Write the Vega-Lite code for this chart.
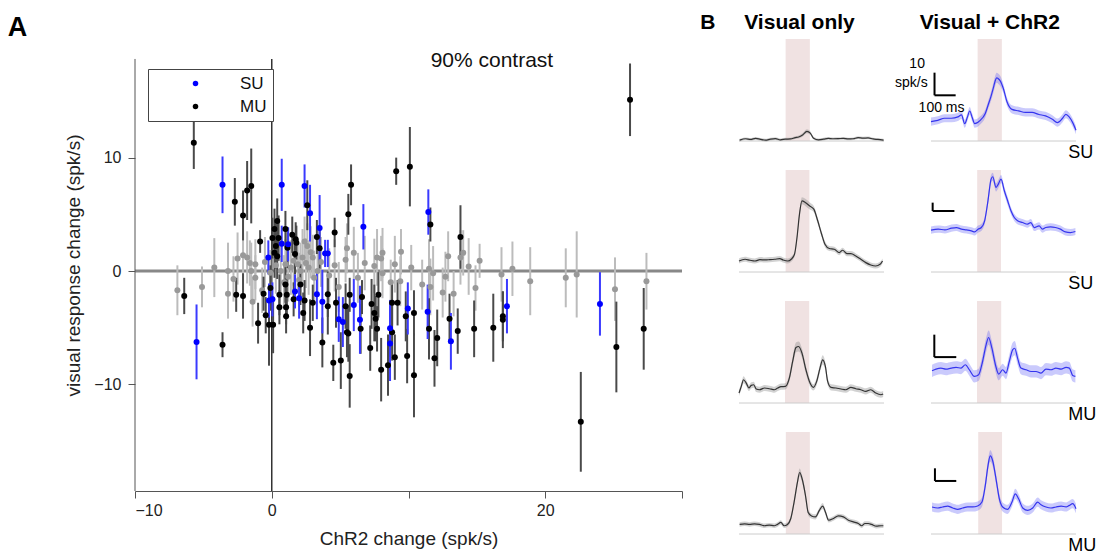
{
"$schema":"https://vega.github.io/schema/vega-lite/v6.json",
"padding":{"left":7,"top":12,"right":0,"bottom":0},
"config":{"view":{"stroke":null},"font":"Liberation Sans"},
"spacing":16,
"datasets":{
"pts":[
{"g":"NS","x":-6.9,"y":-1.7,"e":2.2},{"g":"NS","x":-5.1,"y":-1.4,"e":1.8},{"g":"NS","x":-4.2,"y":0.3,"e":2.6},{"g":"NS","x":-3.2,"y":0.0,"e":2.5},{"g":"NS","x":-3.2,"y":-2.0,"e":2.2},{"g":"NS","x":-2.8,"y":-0.7,"e":2.0},{"g":"NS","x":-2.1,"y":1.4,"e":2.0},{"g":"NS","x":-1.8,"y":1.2,"e":2.3},{"g":"NS","x":-1.6,"y":0.7,"e":2.0},{"g":"NS","x":-1.2,"y":0.6,"e":2.2},{"g":"NS","x":-1.5,"y":0.0,"e":2.5},{"g":"NS","x":-1.2,"y":-0.6,"e":2.0},{"g":"NS","x":-1.4,"y":-2.7,"e":2.2},{"g":"NS","x":-0.7,"y":-1.7,"e":2.0},{"g":"NS","x":2.4,"y":2.6,"e":2.2},{"g":"NS","x":2.6,"y":2.2,"e":2.0},{"g":"NS","x":2.85,"y":1.65,"e":2.3},{"g":"NS","x":2.25,"y":1.2,"e":2.5},{"g":"NS","x":2.5,"y":0.7,"e":2.2},{"g":"NS","x":2.7,"y":0.3,"e":2.4},{"g":"NS","x":3.0,"y":1.2,"e":2.0},{"g":"NS","x":1.9,"y":0.6,"e":2.3},{"g":"NS","x":2.1,"y":0.0,"e":2.5},{"g":"NS","x":1.6,"y":0.9,"e":2.2},{"g":"NS","x":1.4,"y":0.3,"e":2.4},{"g":"NS","x":1.0,"y":0.6,"e":2.2},{"g":"NS","x":0.66,"y":0.0,"e":2.2},{"g":"NS","x":-0.1,"y":-0.15,"e":2.0},{"g":"NS","x":3.1,"y":-0.6,"e":2.4},{"g":"NS","x":3.35,"y":0.0,"e":2.2},{"g":"NS","x":5.5,"y":2.0,"e":2.2},{"g":"NS","x":5.4,"y":1.0,"e":2.0},{"g":"NS","x":7.7,"y":1.2,"e":2.5},{"g":"NS","x":8.0,"y":1.1,"e":2.0},{"g":"NS","x":8.1,"y":1.6,"e":2.2},{"g":"NS","x":7.5,"y":0.45,"e":2.4},{"g":"NS","x":9.45,"y":1.7,"e":2.0},{"g":"NS","x":9.0,"y":0.6,"e":2.5},{"g":"NS","x":8.7,"y":-1.0,"e":2.0},{"g":"NS","x":9.4,"y":-0.9,"e":2.2},{"g":"NS","x":8.1,"y":-0.2,"e":2.2},{"g":"NS","x":11.0,"y":-1.2,"e":2.2},{"g":"NS","x":11.5,"y":0.2,"e":2.6},{"g":"NS","x":11.8,"y":-0.2,"e":2.4},{"g":"NS","x":11.6,"y":-1.4,"e":2.5},{"g":"NS","x":12.5,"y":-1.9,"e":2.2},{"g":"NS","x":12.7,"y":-0.5,"e":2.2},{"g":"NS","x":12.9,"y":1.3,"e":2.2},{"g":"NS","x":13.3,"y":-2.0,"e":2.0},{"g":"NS","x":13.8,"y":1.2,"e":2.4},{"g":"NS","x":14.0,"y":1.6,"e":2.0},{"g":"NS","x":14.4,"y":0.4,"e":2.5},{"g":"NS","x":14.9,"y":-1.5,"e":2.0},{"g":"NS","x":15.2,"y":0.9,"e":1.5},{"g":"NS","x":16.8,"y":-0.3,"e":2.4},{"g":"NS","x":17.6,"y":0.2,"e":2.4},{"g":"NS","x":18.9,"y":-0.9,"e":3.0},{"g":"NS","x":21.5,"y":-0.6,"e":2.6},{"g":"NS","x":22.3,"y":-0.3,"e":3.8},{"g":"NS","x":25.1,"y":-1.6,"e":2.8},{"g":"NS","x":27.4,"y":-0.9,"e":2.5},{"g":"NS","x":0.3,"y":0.5,"e":2.5},{"g":"NS","x":1.2,"y":-0.5,"e":2.2},{"g":"NS","x":2.0,"y":-0.8,"e":2.4},{"g":"NS","x":3.6,"y":0.8,"e":2.2},{"g":"NS","x":4.2,"y":-0.4,"e":2.4},{"g":"NS","x":4.6,"y":0.5,"e":2.3},{"g":"NS","x":6.3,"y":-0.6,"e":2.2},{"g":"NS","x":6.8,"y":0.7,"e":2.4},{"g":"NS","x":10.2,"y":0.3,"e":2.0},{"g":"NS","x":-2.5,"y":1.1,"e":2.3},{"g":"NS","x":-0.5,"y":0.8,"e":2.2},{"g":"NS","x":0.9,"y":-1.0,"e":2.4},{"g":"NS","x":4.9,"y":-1.4,"e":2.2},{"g":"NS","x":6.0,"y":1.6,"e":2.3},
{"g":"MU","x":26.2,"y":15.1,"e":3.2},{"g":"MU","x":-5.7,"y":11.3,"e":2.3},{"g":"MU","x":-6.4,"y":-2.2,"e":1.6},{"g":"MU","x":-3.6,"y":-6.5,"e":1.1},{"g":"MU","x":-2.7,"y":6.1,"e":2.1},{"g":"MU","x":-2.1,"y":4.9,"e":2.2},{"g":"MU","x":-1.8,"y":7.1,"e":2.6},{"g":"MU","x":-1.5,"y":7.5,"e":3.3},{"g":"MU","x":-2.6,"y":-2.1,"e":1.5},{"g":"MU","x":-2.1,"y":-2.2,"e":2.0},{"g":"MU","x":-1.0,"y":-4.6,"e":1.8},{"g":"MU","x":-0.85,"y":2.6,"e":1.0},{"g":"MU","x":-0.44,"y":-3.9,"e":1.6},{"g":"MU","x":-0.2,"y":-4.75,"e":3.6},{"g":"MU","x":0.1,"y":-4.75,"e":2.5},{"g":"MU","x":-0.1,"y":-1.5,"e":2.0},{"g":"MU","x":0.4,"y":4.4,"e":2.0},{"g":"MU","x":0.2,"y":3.7,"e":1.8},{"g":"MU","x":1.0,"y":3.7,"e":1.6},{"g":"MU","x":0.5,"y":2.9,"e":2.0},{"g":"MU","x":0.05,"y":2.9,"e":1.8},{"g":"MU","x":0.3,"y":2.2,"e":2.0},{"g":"MU","x":0.4,"y":1.3,"e":2.0},{"g":"MU","x":0.2,"y":1.6,"e":2.2},{"g":"MU","x":1.15,"y":2.05,"e":1.8},{"g":"MU","x":1.5,"y":3.2,"e":1.6},{"g":"MU","x":1.75,"y":2.8,"e":1.5},{"g":"MU","x":1.8,"y":2.5,"e":1.5},{"g":"MU","x":1.7,"y":1.5,"e":1.8},{"g":"MU","x":2.6,"y":5.8,"e":2.2},{"g":"MU","x":4.6,"y":3.4,"e":1.3},{"g":"MU","x":3.3,"y":3.0,"e":1.5},{"g":"MU","x":3.5,"y":2.0,"e":1.8},{"g":"MU","x":5.6,"y":5.0,"e":1.8},{"g":"MU","x":5.8,"y":7.6,"e":1.8},{"g":"MU","x":0.56,"y":-2.1,"e":1.8},{"g":"MU","x":1.0,"y":-1.2,"e":1.6},{"g":"MU","x":1.1,"y":-2.1,"e":1.8},{"g":"MU","x":1.05,"y":-3.2,"e":1.5},{"g":"MU","x":1.05,"y":-4.0,"e":1.5},{"g":"MU","x":0.56,"y":-3.2,"e":1.5},{"g":"MU","x":2.1,"y":-1.2,"e":1.8},{"g":"MU","x":2.4,"y":-2.6,"e":1.8},{"g":"MU","x":2.8,"y":-5.0,"e":2.5},{"g":"MU","x":3.7,"y":-6.3,"e":2.2},{"g":"MU","x":4.1,"y":-2.05,"e":2.0},{"g":"MU","x":4.1,"y":-3.1,"e":2.5},{"g":"MU","x":4.5,"y":-8.1,"e":1.6},{"g":"MU","x":4.7,"y":-2.8,"e":2.2},{"g":"MU","x":5.05,"y":-7.9,"e":2.5},{"g":"MU","x":5.5,"y":-5.4,"e":2.2},{"g":"MU","x":5.7,"y":-9.25,"e":2.8},{"g":"MU","x":9.1,"y":8.8,"e":1.2},{"g":"MU","x":10.1,"y":9.2,"e":3.5},{"g":"MU","x":11.6,"y":4.1,"e":1.5},{"g":"MU","x":13.8,"y":3.0,"e":2.8},{"g":"MU","x":5.7,"y":-2.1,"e":1.5},{"g":"MU","x":5.4,"y":-3.1,"e":2.0},{"g":"MU","x":6.6,"y":-2.3,"e":1.5},{"g":"MU","x":6.5,"y":-5.1,"e":2.2},{"g":"MU","x":5.6,"y":-5.5,"e":2.5},{"g":"MU","x":7.2,"y":-6.8,"e":2.0},{"g":"MU","x":7.3,"y":-2.9,"e":2.2},{"g":"MU","x":7.5,"y":-3.7,"e":2.5},{"g":"MU","x":7.6,"y":-4.2,"e":2.0},{"g":"MU","x":7.7,"y":-5.1,"e":2.0},{"g":"MU","x":7.8,"y":-2.1,"e":2.0},{"g":"MU","x":8.0,"y":-8.7,"e":2.8},{"g":"MU","x":8.5,"y":-8.3,"e":2.7},{"g":"MU","x":8.8,"y":-2.8,"e":2.0},{"g":"MU","x":9.2,"y":-2.8,"e":2.0},{"g":"MU","x":8.8,"y":-5.4,"e":2.5},{"g":"MU","x":9.0,"y":-7.6,"e":2.0},{"g":"MU","x":9.8,"y":-4.0,"e":2.2},{"g":"MU","x":9.9,"y":-7.5,"e":2.4},{"g":"MU","x":10.4,"y":-3.7,"e":2.0},{"g":"MU","x":10.4,"y":-9.2,"e":3.7},{"g":"MU","x":11.5,"y":-5.1,"e":2.7},{"g":"MU","x":12.1,"y":-5.9,"e":2.5},{"g":"MU","x":11.9,"y":-7.7,"e":2.5},{"g":"MU","x":13.0,"y":-4.2,"e":2.2},{"g":"MU","x":13.6,"y":-5.3,"e":2.0},{"g":"MU","x":14.8,"y":-5.1,"e":2.5},{"g":"MU","x":16.2,"y":-5.0,"e":3.0},{"g":"MU","x":16.9,"y":-4.0,"e":2.2},{"g":"MU","x":16.9,"y":-4.3,"e":2.5},{"g":"MU","x":22.6,"y":-13.3,"e":4.4},{"g":"MU","x":25.2,"y":-6.7,"e":4.0},{"g":"MU","x":27.2,"y":-5.1,"e":3.6},{"g":"MU","x":2.3,"y":-3.7,"e":1.8},{"g":"MU","x":1.6,"y":-2.5,"e":1.5},{"g":"MU","x":3.0,"y":-2.8,"e":1.6},{"g":"MU","x":-0.6,"y":-2.0,"e":1.5},
{"g":"SU","x":-5.5,"y":-6.25,"e":3.3},{"g":"SU","x":-3.6,"y":7.6,"e":2.5},{"g":"SU","x":0.73,"y":7.6,"e":2.3},{"g":"SU","x":2.4,"y":7.5,"e":1.9},{"g":"SU","x":2.8,"y":5.1,"e":2.5},{"g":"SU","x":3.5,"y":3.8,"e":2.9},{"g":"SU","x":0.73,"y":2.4,"e":1.6},{"g":"SU","x":1.2,"y":2.35,"e":1.5},{"g":"SU","x":3.9,"y":1.55,"e":1.2},{"g":"SU","x":4.1,"y":1.55,"e":1.2},{"g":"SU","x":-0.25,"y":1.2,"e":1.5},{"g":"SU","x":-0.2,"y":-2.6,"e":1.5},{"g":"SU","x":0.05,"y":-2.5,"e":1.5},{"g":"SU","x":1.7,"y":-1.8,"e":1.5},{"g":"SU","x":2.0,"y":-2.4,"e":1.8},{"g":"SU","x":3.3,"y":-2.05,"e":2.2},{"g":"SU","x":3.7,"y":-2.7,"e":2.8},{"g":"SU","x":4.9,"y":-4.25,"e":2.0},{"g":"SU","x":5.2,"y":-4.5,"e":2.2},{"g":"SU","x":6.7,"y":3.9,"e":2.0},{"g":"SU","x":11.45,"y":5.2,"e":2.0},{"g":"SU","x":6.0,"y":-3.0,"e":2.3},{"g":"SU","x":6.45,"y":-4.3,"e":3.0},{"g":"SU","x":8.65,"y":-5.05,"e":2.5},{"g":"SU","x":8.65,"y":-6.4,"e":3.3},{"g":"SU","x":9.95,"y":-3.3,"e":2.3},{"g":"SU","x":11.4,"y":-3.6,"e":2.4},{"g":"SU","x":13.1,"y":-6.2,"e":2.5},{"g":"SU","x":17.2,"y":-3.1,"e":2.4},{"g":"SU","x":24.0,"y":-2.9,"e":2.8}
],
"tr":[
{"r":1,"c":"vis","k":"s","t":225,"t2":342},{"r":1,"c":"chr","k":"s","t":225,"t2":342},{"r":2,"c":"vis","k":"s","t":225,"t2":340},{"r":2,"c":"chr","k":"s","t":223,"t2":338},{"r":3,"c":"vis","k":"s","t":222,"t2":339},{"r":3,"c":"chr","k":"s","t":222,"t2":339},{"r":4,"c":"vis","k":"s","t":226,"t2":342},{"r":4,"c":"chr","k":"s","t":228,"t2":343},
{"r":1,"c":"vis","k":"hd","t":292,"v":109.8,"lab":"Visual only"},{"r":1,"c":"chr","k":"hd","t":284,"v":109.8,"lab":"Visual + ChR2"},{"r":1,"c":"vis","k":"hd","t":-151,"v":109.8,"lab":"B"},
{"r":1,"c":"chr","k":"u","t":663,"v":-11.5,"lab":"SU"},{"r":2,"c":"chr","k":"u","t":663,"v":-11.5,"lab":"SU"},{"r":3,"c":"chr","k":"u","t":663,"v":-11.5,"lab":"MU"},{"r":4,"c":"chr","k":"u","t":663,"v":-11.5,"lab":"MU"},
{"r":1,"c":"chr","k":"st","t":-67,"v":75.5,"lab":"10"},{"r":1,"c":"chr","k":"st","t":-95,"v":57,"lab":"spk/s"},{"r":1,"c":"chr","k":"st","t":51,"v":32.6,"lab":"100 ms"},
{"r":1,"c":"chr","k":"sb","t":17,"t2":17,"v":44.8,"v2":67},{"r":1,"c":"chr","k":"sb","t":17,"t2":119,"v":44.8,"v2":44.8},
{"r":2,"c":"chr","k":"sb","t":8,"t2":8,"v":59.8,"v2":68},{"r":2,"c":"chr","k":"sb","t":8,"t2":113,"v":59.8,"v2":59.8},
{"r":3,"c":"chr","k":"sb","t":16,"t2":16,"v":45,"v2":67},{"r":3,"c":"chr","k":"sb","t":16,"t2":122,"v":45,"v2":45},
{"r":4,"c":"chr","k":"sb","t":19,"t2":19,"v":52,"v2":64.4},{"r":4,"c":"chr","k":"sb","t":19,"t2":122,"v":52,"v2":52},
{"r":1,"c":"vis","k":"tr","t":3,"v":0.8,"e":1.3},{"r":1,"c":"vis","k":"tr","t":32,"v":2.2,"e":1.3},{"r":1,"c":"vis","k":"tr","t":56,"v":1.5,"e":1.3},{"r":1,"c":"vis","k":"tr","t":80,"v":2.6,"e":1.3},{"r":1,"c":"vis","k":"tr","t":104,"v":1.6,"e":1.3},{"r":1,"c":"vis","k":"tr","t":128,"v":0.8,"e":1.3},{"r":1,"c":"vis","k":"tr","t":152,"v":1.8,"e":1.3},{"r":1,"c":"vis","k":"tr","t":176,"v":2.3,"e":1.3},{"r":1,"c":"vis","k":"tr","t":200,"v":1.2,"e":1.3},{"r":1,"c":"vis","k":"tr","t":224,"v":1.8,"e":1.3},{"r":1,"c":"vis","k":"tr","t":248,"v":2.0,"e":1.3},{"r":1,"c":"vis","k":"tr","t":272,"v":3.3,"e":1.3},{"r":1,"c":"vis","k":"tr","t":288,"v":3.9,"e":1.5},{"r":1,"c":"vis","k":"tr","t":307,"v":6.0,"e":1.8},{"r":1,"c":"vis","k":"tr","t":328,"v":9.5,"e":2.0},{"r":1,"c":"vis","k":"tr","t":344,"v":7.8,"e":1.8},{"r":1,"c":"vis","k":"tr","t":360,"v":2.8,"e":1.3},{"r":1,"c":"vis","k":"tr","t":384,"v":1.2,"e":1.3},{"r":1,"c":"vis","k":"tr","t":408,"v":1.8,"e":1.3},{"r":1,"c":"vis","k":"tr","t":431,"v":2.6,"e":1.3},{"r":1,"c":"vis","k":"tr","t":455,"v":2.2,"e":1.3},{"r":1,"c":"vis","k":"tr","t":479,"v":2.3,"e":1.3},{"r":1,"c":"vis","k":"tr","t":503,"v":2.6,"e":1.3},{"r":1,"c":"vis","k":"tr","t":527,"v":2.0,"e":1.3},{"r":1,"c":"vis","k":"tr","t":551,"v":2.2,"e":1.3},{"r":1,"c":"vis","k":"tr","t":575,"v":3.3,"e":1.3},{"r":1,"c":"vis","k":"tr","t":599,"v":2.8,"e":1.3},{"r":1,"c":"vis","k":"tr","t":623,"v":3.0,"e":1.3},{"r":1,"c":"vis","k":"tr","t":647,"v":2.0,"e":1.3},{"r":1,"c":"vis","k":"tr","t":671,"v":1.5,"e":1.3},{"r":1,"c":"vis","k":"tr","t":698,"v":0.8,"e":1.3},
{"r":1,"c":"chr","k":"tr","t":0,"v":19,"e":4},{"r":1,"c":"chr","k":"tr","t":33,"v":20.3,"e":4},{"r":1,"c":"chr","k":"tr","t":65,"v":22.3,"e":4},{"r":1,"c":"chr","k":"tr","t":98,"v":22.3,"e":4},{"r":1,"c":"chr","k":"tr","t":130,"v":23.6,"e":4},{"r":1,"c":"chr","k":"tr","t":147,"v":25.6,"e":4},{"r":1,"c":"chr","k":"tr","t":163,"v":17,"e":4},{"r":1,"c":"chr","k":"tr","t":175,"v":23,"e":4},{"r":1,"c":"chr","k":"tr","t":187,"v":29.4,"e":4},{"r":1,"c":"chr","k":"tr","t":199,"v":23,"e":4},{"r":1,"c":"chr","k":"tr","t":211,"v":17,"e":4},{"r":1,"c":"chr","k":"tr","t":236,"v":20,"e":4},{"r":1,"c":"chr","k":"tr","t":262,"v":27,"e":4},{"r":1,"c":"chr","k":"tr","t":277,"v":36,"e":4},{"r":1,"c":"chr","k":"tr","t":290,"v":44,"e":4.5},{"r":1,"c":"chr","k":"tr","t":301,"v":52,"e":5},{"r":1,"c":"chr","k":"tr","t":310,"v":59,"e":5},{"r":1,"c":"chr","k":"tr","t":317,"v":62,"e":5},{"r":1,"c":"chr","k":"tr","t":325,"v":61,"e":5},{"r":1,"c":"chr","k":"tr","t":334,"v":59,"e":5},{"r":1,"c":"chr","k":"tr","t":350,"v":51,"e":4.5},{"r":1,"c":"chr","k":"tr","t":366,"v":39,"e":4},{"r":1,"c":"chr","k":"tr","t":391,"v":31,"e":4},{"r":1,"c":"chr","k":"tr","t":423,"v":29.5,"e":4},{"r":1,"c":"chr","k":"tr","t":456,"v":28,"e":4},{"r":1,"c":"chr","k":"tr","t":488,"v":28,"e":4},{"r":1,"c":"chr","k":"tr","t":521,"v":26,"e":4},{"r":1,"c":"chr","k":"tr","t":553,"v":24.6,"e":4},{"r":1,"c":"chr","k":"tr","t":586,"v":21.3,"e":4},{"r":1,"c":"chr","k":"tr","t":610,"v":18,"e":4},{"r":1,"c":"chr","k":"tr","t":635,"v":22.3,"e":4},{"r":1,"c":"chr","k":"tr","t":651,"v":26.2,"e":4},{"r":1,"c":"chr","k":"tr","t":667,"v":23.6,"e":4},{"r":1,"c":"chr","k":"tr","t":684,"v":18,"e":4},{"r":1,"c":"chr","k":"tr","t":700,"v":10.5,"e":4},
{"r":2,"c":"vis","k":"tr","t":0,"v":10.8,"e":2.5},{"r":2,"c":"vis","k":"tr","t":29,"v":12.5,"e":2.5},{"r":2,"c":"vis","k":"tr","t":53,"v":11.5,"e":2.5},{"r":2,"c":"vis","k":"tr","t":77,"v":10.8,"e":2.5},{"r":2,"c":"vis","k":"tr","t":101,"v":12.1,"e":2.5},{"r":2,"c":"vis","k":"tr","t":125,"v":11.8,"e":2.5},{"r":2,"c":"vis","k":"tr","t":149,"v":12.1,"e":2.5},{"r":2,"c":"vis","k":"tr","t":173,"v":12.5,"e":2.5},{"r":2,"c":"vis","k":"tr","t":197,"v":13.1,"e":2.5},{"r":2,"c":"vis","k":"tr","t":213,"v":11.8,"e":2.5},{"r":2,"c":"vis","k":"tr","t":236,"v":10.8,"e":2.5},{"r":2,"c":"vis","k":"tr","t":252,"v":12.5,"e":2.5},{"r":2,"c":"vis","k":"tr","t":268,"v":17.4,"e":2.5},{"r":2,"c":"vis","k":"tr","t":280,"v":33.8,"e":3},{"r":2,"c":"vis","k":"tr","t":292,"v":56.7,"e":3},{"r":2,"c":"vis","k":"tr","t":304,"v":69.8,"e":3.5},{"r":2,"c":"vis","k":"tr","t":320,"v":68.2,"e":3.5},{"r":2,"c":"vis","k":"tr","t":340,"v":64.9,"e":3.5},{"r":2,"c":"vis","k":"tr","t":361,"v":61.6,"e":3},{"r":2,"c":"vis","k":"tr","t":380,"v":50.2,"e":3},{"r":2,"c":"vis","k":"tr","t":399,"v":37,"e":3},{"r":2,"c":"vis","k":"tr","t":415,"v":27.2,"e":3},{"r":2,"c":"vis","k":"tr","t":436,"v":23,"e":2.5},{"r":2,"c":"vis","k":"tr","t":460,"v":22.3,"e":2.5},{"r":2,"c":"vis","k":"tr","t":484,"v":19,"e":2.5},{"r":2,"c":"vis","k":"tr","t":500,"v":21.3,"e":2.5},{"r":2,"c":"vis","k":"tr","t":521,"v":18,"e":2.5},{"r":2,"c":"vis","k":"tr","t":540,"v":18,"e":2.5},{"r":2,"c":"vis","k":"tr","t":564,"v":15.7,"e":2.5},{"r":2,"c":"vis","k":"tr","t":588,"v":12.5,"e":2.5},{"r":2,"c":"vis","k":"tr","t":612,"v":9.2,"e":2.5},{"r":2,"c":"vis","k":"tr","t":636,"v":6.9,"e":2.5},{"r":2,"c":"vis","k":"tr","t":660,"v":5.9,"e":2.5},{"r":2,"c":"vis","k":"tr","t":681,"v":7.5,"e":2.5},{"r":2,"c":"vis","k":"tr","t":693,"v":10.8,"e":2.5},
{"r":2,"c":"chr","k":"tr","t":0,"v":41,"e":3.5},{"r":2,"c":"chr","k":"tr","t":35,"v":42,"e":3.5},{"r":2,"c":"chr","k":"tr","t":67,"v":41.3,"e":3.5},{"r":2,"c":"chr","k":"tr","t":99,"v":43,"e":3.5},{"r":2,"c":"chr","k":"tr","t":123,"v":43.6,"e":3.5},{"r":2,"c":"chr","k":"tr","t":147,"v":42,"e":3.5},{"r":2,"c":"chr","k":"tr","t":171,"v":41.3,"e":3.5},{"r":2,"c":"chr","k":"tr","t":195,"v":40.3,"e":3.5},{"r":2,"c":"chr","k":"tr","t":211,"v":39.3,"e":3.5},{"r":2,"c":"chr","k":"tr","t":227,"v":42,"e":3.5},{"r":2,"c":"chr","k":"tr","t":243,"v":43.6,"e":3.5},{"r":2,"c":"chr","k":"tr","t":259,"v":50.2,"e":3.5},{"r":2,"c":"chr","k":"tr","t":275,"v":69.8,"e":4},{"r":2,"c":"chr","k":"tr","t":290,"v":91.1,"e":4},{"r":2,"c":"chr","k":"tr","t":298,"v":93.4,"e":4},{"r":2,"c":"chr","k":"tr","t":314,"v":83,"e":4},{"r":2,"c":"chr","k":"tr","t":325,"v":86.2,"e":4},{"r":2,"c":"chr","k":"tr","t":338,"v":91.1,"e":4},{"r":2,"c":"chr","k":"tr","t":354,"v":79.7,"e":4},{"r":2,"c":"chr","k":"tr","t":370,"v":69.8,"e":4},{"r":2,"c":"chr","k":"tr","t":386,"v":60,"e":3.5},{"r":2,"c":"chr","k":"tr","t":402,"v":53.4,"e":3.5},{"r":2,"c":"chr","k":"tr","t":418,"v":50.2,"e":3.5},{"r":2,"c":"chr","k":"tr","t":442,"v":48.5,"e":3.5},{"r":2,"c":"chr","k":"tr","t":466,"v":46.9,"e":3.5},{"r":2,"c":"chr","k":"tr","t":482,"v":48.5,"e":3.5},{"r":2,"c":"chr","k":"tr","t":498,"v":43.6,"e":3.5},{"r":2,"c":"chr","k":"tr","t":522,"v":45.2,"e":3.5},{"r":2,"c":"chr","k":"tr","t":538,"v":42,"e":3.5},{"r":2,"c":"chr","k":"tr","t":554,"v":43.6,"e":3.5},{"r":2,"c":"chr","k":"tr","t":577,"v":44.3,"e":3.5},{"r":2,"c":"chr","k":"tr","t":601,"v":43.6,"e":3.5},{"r":2,"c":"chr","k":"tr","t":625,"v":42,"e":3.5},{"r":2,"c":"chr","k":"tr","t":649,"v":39.3,"e":3.5},{"r":2,"c":"chr","k":"tr","t":673,"v":38.7,"e":3.5},{"r":2,"c":"chr","k":"tr","t":697,"v":39.7,"e":3.5},
{"r":3,"c":"vis","k":"tr","t":0,"v":9.8,"e":3},{"r":3,"c":"vis","k":"tr","t":11,"v":16.3,"e":3},{"r":3,"c":"vis","k":"tr","t":22,"v":22.8,"e":3.5},{"r":3,"c":"vis","k":"tr","t":35,"v":19.5,"e":3},{"r":3,"c":"vis","k":"tr","t":48,"v":14.7,"e":3},{"r":3,"c":"vis","k":"tr","t":59,"v":17.3,"e":3},{"r":3,"c":"vis","k":"tr","t":71,"v":17.9,"e":3},{"r":3,"c":"vis","k":"tr","t":83,"v":13.7,"e":3},{"r":3,"c":"vis","k":"tr","t":99,"v":13,"e":3},{"r":3,"c":"vis","k":"tr","t":123,"v":14.7,"e":3},{"r":3,"c":"vis","k":"tr","t":147,"v":14,"e":3},{"r":3,"c":"vis","k":"tr","t":171,"v":13,"e":3},{"r":3,"c":"vis","k":"tr","t":187,"v":14.7,"e":3},{"r":3,"c":"vis","k":"tr","t":203,"v":16,"e":3},{"r":3,"c":"vis","k":"tr","t":224,"v":16.3,"e":3},{"r":3,"c":"vis","k":"tr","t":243,"v":24.4,"e":3.5},{"r":3,"c":"vis","k":"tr","t":259,"v":40.7,"e":4.5},{"r":3,"c":"vis","k":"tr","t":275,"v":54.4,"e":5},{"r":3,"c":"vis","k":"tr","t":288,"v":55.4,"e":5},{"r":3,"c":"vis","k":"tr","t":304,"v":48.9,"e":4.5},{"r":3,"c":"vis","k":"tr","t":323,"v":32.6,"e":4},{"r":3,"c":"vis","k":"tr","t":343,"v":19.5,"e":3.5},{"r":3,"c":"vis","k":"tr","t":359,"v":15.3,"e":3},{"r":3,"c":"vis","k":"tr","t":375,"v":21.2,"e":3.5},{"r":3,"c":"vis","k":"tr","t":391,"v":34.2,"e":4},{"r":3,"c":"vis","k":"tr","t":404,"v":42.3,"e":4.5},{"r":3,"c":"vis","k":"tr","t":417,"v":35.8,"e":4},{"r":3,"c":"vis","k":"tr","t":428,"v":21.2,"e":3.5},{"r":3,"c":"vis","k":"tr","t":444,"v":15.3,"e":3},{"r":3,"c":"vis","k":"tr","t":468,"v":14.7,"e":3},{"r":3,"c":"vis","k":"tr","t":492,"v":13.7,"e":3},{"r":3,"c":"vis","k":"tr","t":516,"v":13,"e":3},{"r":3,"c":"vis","k":"tr","t":540,"v":15.3,"e":3},{"r":3,"c":"vis","k":"tr","t":564,"v":14,"e":3},{"r":3,"c":"vis","k":"tr","t":588,"v":13,"e":3},{"r":3,"c":"vis","k":"tr","t":612,"v":11.4,"e":3},{"r":3,"c":"vis","k":"tr","t":636,"v":13,"e":3},{"r":3,"c":"vis","k":"tr","t":660,"v":9.8,"e":3},{"r":3,"c":"vis","k":"tr","t":685,"v":8.1,"e":3},{"r":3,"c":"vis","k":"tr","t":696,"v":8.8,"e":3},
{"r":3,"c":"chr","k":"tr","t":5,"v":31.6,"e":6},{"r":3,"c":"chr","k":"tr","t":24,"v":33.2,"e":6},{"r":3,"c":"chr","k":"tr","t":48,"v":34.2,"e":6},{"r":3,"c":"chr","k":"tr","t":72,"v":33.2,"e":6},{"r":3,"c":"chr","k":"tr","t":97,"v":34.2,"e":6},{"r":3,"c":"chr","k":"tr","t":121,"v":34.9,"e":6},{"r":3,"c":"chr","k":"tr","t":145,"v":34.2,"e":6},{"r":3,"c":"chr","k":"tr","t":166,"v":37.5,"e":6},{"r":3,"c":"chr","k":"tr","t":185,"v":32.6,"e":6},{"r":3,"c":"chr","k":"tr","t":209,"v":26.1,"e":6},{"r":3,"c":"chr","k":"tr","t":230,"v":27.7,"e":6},{"r":3,"c":"chr","k":"tr","t":249,"v":40.7,"e":6.5},{"r":3,"c":"chr","k":"tr","t":266,"v":57,"e":7},{"r":3,"c":"chr","k":"tr","t":278,"v":64.2,"e":7},{"r":3,"c":"chr","k":"tr","t":294,"v":53.7,"e":7},{"r":3,"c":"chr","k":"tr","t":311,"v":37.5,"e":6.5},{"r":3,"c":"chr","k":"tr","t":327,"v":28.3,"e":6},{"r":3,"c":"chr","k":"tr","t":346,"v":32.6,"e":6},{"r":3,"c":"chr","k":"tr","t":362,"v":29.3,"e":6},{"r":3,"c":"chr","k":"tr","t":378,"v":40.7,"e":6.5},{"r":3,"c":"chr","k":"tr","t":394,"v":52.1,"e":7},{"r":3,"c":"chr","k":"tr","t":404,"v":53.7,"e":7},{"r":3,"c":"chr","k":"tr","t":418,"v":44,"e":6.5},{"r":3,"c":"chr","k":"tr","t":434,"v":34.2,"e":6},{"r":3,"c":"chr","k":"tr","t":459,"v":32.6,"e":6},{"r":3,"c":"chr","k":"tr","t":483,"v":30.9,"e":6},{"r":3,"c":"chr","k":"tr","t":507,"v":30.9,"e":6},{"r":3,"c":"chr","k":"tr","t":531,"v":29.3,"e":6},{"r":3,"c":"chr","k":"tr","t":555,"v":33.2,"e":6},{"r":3,"c":"chr","k":"tr","t":579,"v":32.6,"e":6},{"r":3,"c":"chr","k":"tr","t":603,"v":34.2,"e":6},{"r":3,"c":"chr","k":"tr","t":628,"v":33.2,"e":6},{"r":3,"c":"chr","k":"tr","t":652,"v":34.9,"e":6},{"r":3,"c":"chr","k":"tr","t":668,"v":34.2,"e":6},{"r":3,"c":"chr","k":"tr","t":684,"v":27,"e":6},{"r":3,"c":"chr","k":"tr","t":697,"v":26.1,"e":6},
{"r":4,"c":"vis","k":"tr","t":3,"v":9.4,"e":2.2},{"r":4,"c":"vis","k":"tr","t":27,"v":10,"e":2.2},{"r":4,"c":"vis","k":"tr","t":51,"v":9.4,"e":2.2},{"r":4,"c":"vis","k":"tr","t":75,"v":10,"e":2.2},{"r":4,"c":"vis","k":"tr","t":99,"v":9.4,"e":2.2},{"r":4,"c":"vis","k":"tr","t":123,"v":8.1,"e":2.2},{"r":4,"c":"vis","k":"tr","t":146,"v":8.7,"e":2.2},{"r":4,"c":"vis","k":"tr","t":170,"v":8.1,"e":2.2},{"r":4,"c":"vis","k":"tr","t":186,"v":9.4,"e":2.2},{"r":4,"c":"vis","k":"tr","t":202,"v":11.3,"e":2.2},{"r":4,"c":"vis","k":"tr","t":218,"v":8.1,"e":2.2},{"r":4,"c":"vis","k":"tr","t":234,"v":9.4,"e":2.2},{"r":4,"c":"vis","k":"tr","t":250,"v":15.2,"e":2.5},{"r":4,"c":"vis","k":"tr","t":266,"v":31.3,"e":3},{"r":4,"c":"vis","k":"tr","t":282,"v":50.6,"e":3.5},{"r":4,"c":"vis","k":"tr","t":293,"v":60.3,"e":4},{"r":4,"c":"vis","k":"tr","t":305,"v":53.9,"e":3.5},{"r":4,"c":"vis","k":"tr","t":321,"v":37.7,"e":3},{"r":4,"c":"vis","k":"tr","t":334,"v":21,"e":2.5},{"r":4,"c":"vis","k":"tr","t":350,"v":17.7,"e":2.5},{"r":4,"c":"vis","k":"tr","t":369,"v":16.8,"e":2.5},{"r":4,"c":"vis","k":"tr","t":388,"v":23.2,"e":2.5},{"r":4,"c":"vis","k":"tr","t":404,"v":27.4,"e":3},{"r":4,"c":"vis","k":"tr","t":417,"v":21.6,"e":2.5},{"r":4,"c":"vis","k":"tr","t":433,"v":13.5,"e":2.2},{"r":4,"c":"vis","k":"tr","t":456,"v":15.2,"e":2.2},{"r":4,"c":"vis","k":"tr","t":480,"v":17.7,"e":2.2},{"r":4,"c":"vis","k":"tr","t":504,"v":16.8,"e":2.2},{"r":4,"c":"vis","k":"tr","t":528,"v":13.5,"e":2.2},{"r":4,"c":"vis","k":"tr","t":552,"v":11.9,"e":2.2},{"r":4,"c":"vis","k":"tr","t":576,"v":10.3,"e":2.2},{"r":4,"c":"vis","k":"tr","t":592,"v":8.1,"e":2.2},{"r":4,"c":"vis","k":"tr","t":608,"v":10.3,"e":2.2},{"r":4,"c":"vis","k":"tr","t":624,"v":10.3,"e":2.2},{"r":4,"c":"vis","k":"tr","t":640,"v":9.4,"e":2.2},{"r":4,"c":"vis","k":"tr","t":663,"v":7.7,"e":2.2},{"r":4,"c":"vis","k":"tr","t":687,"v":8.1,"e":2.2},{"r":4,"c":"vis","k":"tr","t":697,"v":8.1,"e":2.2},
{"r":4,"c":"chr","k":"tr","t":5,"v":26.5,"e":4.5},{"r":4,"c":"chr","k":"tr","t":32,"v":25.5,"e":4.5},{"r":4,"c":"chr","k":"tr","t":56,"v":26.5,"e":4.5},{"r":4,"c":"chr","k":"tr","t":80,"v":27.4,"e":4.5},{"r":4,"c":"chr","k":"tr","t":105,"v":25.5,"e":4.5},{"r":4,"c":"chr","k":"tr","t":129,"v":24.2,"e":4.5},{"r":4,"c":"chr","k":"tr","t":153,"v":25.5,"e":4.5},{"r":4,"c":"chr","k":"tr","t":177,"v":26.5,"e":4.5},{"r":4,"c":"chr","k":"tr","t":201,"v":26.5,"e":4.5},{"r":4,"c":"chr","k":"tr","t":225,"v":27.4,"e":4.5},{"r":4,"c":"chr","k":"tr","t":246,"v":31.3,"e":4.5},{"r":4,"c":"chr","k":"tr","t":262,"v":47.4,"e":5},{"r":4,"c":"chr","k":"tr","t":275,"v":66.8,"e":5.5},{"r":4,"c":"chr","k":"tr","t":286,"v":76.5,"e":5.5},{"r":4,"c":"chr","k":"tr","t":298,"v":71.6,"e":5.5},{"r":4,"c":"chr","k":"tr","t":314,"v":53.9,"e":5},{"r":4,"c":"chr","k":"tr","t":330,"v":34.5,"e":4.5},{"r":4,"c":"chr","k":"tr","t":346,"v":26.5,"e":4.5},{"r":4,"c":"chr","k":"tr","t":370,"v":24.2,"e":4.5},{"r":4,"c":"chr","k":"tr","t":391,"v":31.3,"e":4.5},{"r":4,"c":"chr","k":"tr","t":407,"v":39.4,"e":5},{"r":4,"c":"chr","k":"tr","t":423,"v":34.5,"e":4.5},{"r":4,"c":"chr","k":"tr","t":443,"v":25.5,"e":4.5},{"r":4,"c":"chr","k":"tr","t":467,"v":23.2,"e":4.5},{"r":4,"c":"chr","k":"tr","t":491,"v":25.5,"e":4.5},{"r":4,"c":"chr","k":"tr","t":515,"v":31.3,"e":4.5},{"r":4,"c":"chr","k":"tr","t":531,"v":28.7,"e":4.5},{"r":4,"c":"chr","k":"tr","t":555,"v":26.5,"e":4.5},{"r":4,"c":"chr","k":"tr","t":579,"v":25.5,"e":4.5},{"r":4,"c":"chr","k":"tr","t":603,"v":26.5,"e":4.5},{"r":4,"c":"chr","k":"tr","t":628,"v":27.4,"e":4.5},{"r":4,"c":"chr","k":"tr","t":652,"v":26.5,"e":4.5},{"r":4,"c":"chr","k":"tr","t":668,"v":28.1,"e":4.5},{"r":4,"c":"chr","k":"tr","t":684,"v":29.7,"e":4.5},{"r":4,"c":"chr","k":"tr","t":700,"v":24.8,"e":4.5}
]
},
"hconcat":[
{
"width":547,"height":452,
"title":{"text":"A","anchor":"start","frame":"bounds","fontSize":27,"fontWeight":"bold","dx":-57,"offset":-3,"color":"#000"},
"layer":[
{"data":{"values":[{}]},"mark":{"type":"rule","color":"#888","strokeWidth":3},"encoding":{"y":{"datum":0,"type":"quantitative"}}},
{"data":{"values":[{}]},"mark":{"type":"rule","color":"#333","strokeWidth":1.5},"encoding":{"x":{"datum":0,"type":"quantitative"},"y":{"datum":-19.4,"type":"quantitative"},"y2":{"datum":18.7}}},
{"data":{"values":[{}]},"mark":{"type":"rule","color":"#555","strokeWidth":1},"encoding":{"x":{"datum":-10,"type":"quantitative"},"y":{"datum":-19.4,"type":"quantitative"},"y2":{"datum":18.7}}},
{"data":{"name":"pts"},"transform":[{"filter":"datum.g=='NS'"}],"mark":{"type":"errorbar","ticks":false,"thickness":2,"color":"#bcbcbc"},
 "encoding":{"x":{"field":"x","type":"quantitative","title":"ChR2 change (spk/s)"},"y":{"field":"y","type":"quantitative","title":"visual response change (spk/s)"},"yError":{"field":"e"}}},
{"data":{"name":"pts"},"transform":[{"filter":"datum.g=='MU'"}],"mark":{"type":"errorbar","ticks":false,"thickness":2,"color":"#4a4a4a"},
 "encoding":{"x":{"field":"x","type":"quantitative","title":"ChR2 change (spk/s)"},"y":{"field":"y","type":"quantitative","title":"visual response change (spk/s)"},"yError":{"field":"e"}}},
{"data":{"name":"pts"},"transform":[{"filter":"datum.g=='SU'"}],"mark":{"type":"errorbar","ticks":false,"thickness":2,"color":"#3a3aff"},
 "encoding":{"x":{"field":"x","type":"quantitative","title":"ChR2 change (spk/s)"},"y":{"field":"y","type":"quantitative","title":"visual response change (spk/s)"},"yError":{"field":"e"}}},
{"data":{"name":"pts"},"mark":{"type":"point","filled":true,"size":36,"opacity":1},
 "encoding":{
  "x":{"field":"x","type":"quantitative","title":"ChR2 change (spk/s)","scale":{"domain":[-10,30],"nice":false,"zero":false},
    "axis":{"values":[-10,0,10,20,30],"labelExpr":"datum.value==10||datum.value==30?'':datum.label","grid":false,"domainColor":"#555","tickColor":"#555","tickSize":7,"labelFontSize":16,"labelColor":"#222","labelPadding":4,"titleFontSize":19,"titleFontWeight":"normal","titleColor":"#222","titlePadding":11}},
  "y":{"field":"y","type":"quantitative","title":"visual response change (spk/s)","scale":{"domain":[-19.4,20.46],"nice":false,"zero":false},
    "axis":{"values":[-10,0,10],"grid":false,"domain":false,"tickColor":"#555","tickSize":7,"labelFontSize":16,"labelColor":"#222","labelPadding":7,"titleFontSize":19,"titleFontWeight":"normal","titleColor":"#222","titlePadding":10}},
  "color":{"field":"g","type":"nominal","scale":{"domain":["SU","MU","NS"],"range":["#0000ff","#000000","#999999"]},
    "legend":{"orient":"none","legendX":13,"legendY":30,"title":null,"values":["SU","MU"],"strokeColor":"#444","fillColor":"white","padding":6,"symbolType":"circle","symbolSize":30,"symbolOffset":33,"labelOffset":36,"labelFontSize":17,"labelColor":"#111","rowPadding":5}}
 }},
{"data":{"values":[{}]},"mark":{"type":"text","fontSize":21,"color":"#111","baseline":"middle"},"encoding":{"x":{"datum":16.1,"type":"quantitative"},"y":{"datum":18.5,"type":"quantitative"},"text":{"value":"90% contrast"}}}
]
},
{
"data":{"name":"tr"},
"facet":{"row":{"field":"r","type":"ordinal","header":null},"column":{"field":"c","type":"nominal","sort":["vis","chr"],"header":null}},
"spacing":{"row":29,"column":47},
"bounds":"flush",
"spec":{
"width":145,"height":102,
"layer":[
{"transform":[{"filter":"datum.k=='s'"}],"mark":{"type":"rect","color":"#f0e2e2"},
 "encoding":{"x":{"field":"t","type":"quantitative","scale":{"domain":[0,700],"nice":false,"zero":false},"axis":null},"x2":{"field":"t2"}}},
{"transform":[{"filter":"datum.k=='s'"}],"mark":{"type":"rule","color":"#cccccc","strokeWidth":1},
 "encoding":{"y":{"datum":0,"type":"quantitative","scale":{"domain":[0,100],"nice":false,"zero":false},"axis":null}}},
{"transform":[{"filter":"datum.k=='tr' && datum.c=='vis'"}],"mark":{"type":"errorband","color":"#888888","opacity":0.38,"interpolate":"monotone"},
 "encoding":{"x":{"field":"t","type":"quantitative","axis":null},"y":{"field":"v","type":"quantitative","axis":null},"yError":{"field":"e"}}},
{"transform":[{"filter":"datum.k=='tr' && datum.c=='chr'"}],"mark":{"type":"errorband","color":"#5a5af5","opacity":0.32,"interpolate":"monotone"},
 "encoding":{"x":{"field":"t","type":"quantitative","axis":null},"y":{"field":"v","type":"quantitative","axis":null},"yError":{"field":"e"}}},
{"transform":[{"filter":"datum.k=='tr' && datum.c=='vis'"}],"mark":{"type":"line","color":"#333333","strokeWidth":1.2,"interpolate":"monotone"},
 "encoding":{"x":{"field":"t","type":"quantitative","axis":null},"y":{"field":"v","type":"quantitative","axis":null}}},
{"transform":[{"filter":"datum.k=='tr' && datum.c=='chr'"}],"mark":{"type":"line","color":"#3535ee","strokeWidth":1.2,"interpolate":"monotone"},
 "encoding":{"x":{"field":"t","type":"quantitative","axis":null},"y":{"field":"v","type":"quantitative","axis":null}}},
{"transform":[{"filter":"datum.k=='sb'"}],"mark":{"type":"rule","color":"#000","strokeWidth":2},
 "encoding":{"x":{"field":"t","type":"quantitative","axis":null},"x2":{"field":"t2"},"y":{"field":"v","type":"quantitative","axis":null},"y2":{"field":"v2"}}},
{"transform":[{"filter":"datum.k=='hd'"}],"mark":{"type":"text","fontSize":21,"fontWeight":"bold","color":"#000","baseline":"alphabetic","align":"center"},
 "encoding":{"x":{"field":"t","type":"quantitative","axis":null},"y":{"field":"v","type":"quantitative","axis":null},"text":{"field":"lab"}}},
{"transform":[{"filter":"datum.k=='u'"}],"mark":{"type":"text","fontSize":18,"color":"#000","baseline":"middle","align":"left"},
 "encoding":{"x":{"field":"t","type":"quantitative","axis":null},"y":{"field":"v","type":"quantitative","axis":null},"text":{"field":"lab"}}},
{"transform":[{"filter":"datum.k=='st'"}],"mark":{"type":"text","fontSize":14,"color":"#000","baseline":"middle","align":"center"},
 "encoding":{"x":{"field":"t","type":"quantitative","axis":null},"y":{"field":"v","type":"quantitative","axis":null},"text":{"field":"lab"}}}
]
}
}
]
}
